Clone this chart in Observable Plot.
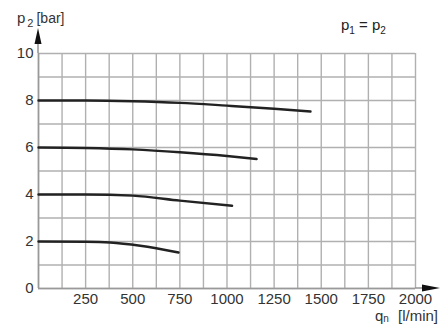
<!DOCTYPE html>
<html>
<head>
<meta charset="utf-8">
<script src="https://cdn.jsdelivr.net/npm/d3@7"></script>
<script src="https://cdn.jsdelivr.net/npm/@observablehq/plot@0.6"></script>
<style>
  html, body { margin: 0; padding: 0; background: #fff; }
  #chart svg { display: block; }
</style>
</head>
<body>
<div id="chart"></div>
<script>
// Tick labels / grid
const xTicks = [250, 500, 750, 1000, 1250, 1500, 1750, 2000];
const xGrid = [0, 125, 250, 375, 500, 625, 750, 875, 1000, 1125, 1250, 1375, 1500, 1625, 1750, 1875, 2000];
const yTicks = [0, 2, 4, 6, 8, 10];
const yGrid = [0, 1, 2, 3, 4, 5, 6, 7, 8, 9, 10];

// Series: flow q_n [l/min] vs outlet pressure p2 [bar]
const q8 = [0, 250, 500, 750, 1000, 1250, 1443];
const p8 = [8.0, 8.0, 7.97, 7.9, 7.78, 7.65, 7.53];
const q6 = [0, 250, 500, 750, 1000, 1157];
const p6 = [6.0, 5.98, 5.92, 5.8, 5.64, 5.51];
const q4 = [0, 250, 500, 750, 1027];
const p4 = [4.0, 4.0, 3.95, 3.74, 3.52];
const q2 = [0, 250, 380, 540, 743];
const p2 = [2.0, 1.99, 1.96, 1.82, 1.53];

const series = [
  {name: "8", q: q8, p: p8},
  {name: "6", q: q6, p: p6},
  {name: "4", q: q4, p: p4},
  {name: "2", q: q2, p: p2}
];
const rows = series.flatMap(s => s.q.map((q, i) => ({series: s.name, q, p: s.p[i]})));

const W = 445, H = 329;
const chart = Plot.plot({
  width: W,
  height: H,
  marginLeft: 38,
  marginRight: 30,
  marginTop: 53,
  marginBottom: 41,
  style: {fontFamily: "'Liberation Sans', Arial, sans-serif", background: "#fff", color: "#333"},
  x: {domain: [0, 2000]},
  y: {domain: [0, 10]},
  marks: [
    Plot.ruleX(xGrid, {x: d => d, stroke: "#b0b0b0", strokeWidth: 1.4}),
    Plot.ruleY(yGrid, {y: d => d, stroke: "#b0b0b0", strokeWidth: 1.4}),
    Plot.ruleX([0], {stroke: "#999", strokeWidth: 1.6}),
    Plot.ruleY([0], {stroke: "#999", strokeWidth: 1.6}),
    Plot.axisX(xTicks, {tickSize: 0, tickPadding: 5, fontSize: 15, fill: "#333", label: null, tickFormat: d => String(d)}),
    Plot.axisY(yTicks, {tickSize: 0, tickPadding: 5, fontSize: 15, fill: "#333", label: null, tickFormat: d => String(d)}),
    Plot.line(rows, {x: "q", y: "p", z: "series", curve: "monotone-x", stroke: "#222", strokeWidth: 2.4})
  ]
});

const svg = d3.select(chart);
const sx = chart.scale("x"), sy = chart.scale("y");
const x0 = sx.apply(0), x1 = sx.apply(2000), y0 = sy.apply(0), y1 = sy.apply(10);

// axis extensions with arrows
svg.append("line").attr("x1", x0).attr("x2", x0).attr("y1", y1).attr("y2", y1 - 12)
  .attr("stroke", "#999").attr("stroke-width", 1.6);
svg.append("path").attr("d", `M${x0},${y1 - 25} L${x0 - 3.5},${y1 - 9} L${x0 + 3.5},${y1 - 9} Z`).attr("fill", "#111");
svg.append("line").attr("x1", x1).attr("x2", x1 + 10).attr("y1", y0).attr("y2", y0)
  .attr("stroke", "#999").attr("stroke-width", 1.6);
svg.append("path").attr("d", `M${x1 + 25},${y0} L${x1 + 7},${y0 - 3.5} L${x1 + 7},${y0 + 3.5} Z`).attr("fill", "#111");

const font = "'Liberation Sans', Arial, sans-serif";
// y axis label
const tY = svg.append("text").attr("x", 17).attr("y", 23).attr("text-anchor", "start").attr("font-family", font).attr("font-size", 15).attr("fill", "#333");
tY.append("tspan").text("p");
tY.append("tspan").attr("font-size", 11).attr("dx", 2).attr("dy", 4).text("2");
tY.append("tspan").attr("font-size", 14).attr("dx", 3).attr("dy", -4).text("[bar]");

// x axis label
const tX = svg.append("text").attr("x", 438).attr("y", 321).attr("text-anchor", "end").attr("font-family", font).attr("font-size", 15).attr("fill", "#333");
tX.append("tspan").text("q");
tX.append("tspan").attr("font-size", 10).attr("dy", 1).text("n");
tX.append("tspan").attr("dy", -1).attr("dx", 5).text(" [l/min]");

// p1 = p2
const tP = svg.append("text").attr("x", 341).attr("y", 30).attr("text-anchor", "start").attr("font-family", font).attr("font-size", 15).attr("fill", "#222");
tP.append("tspan").text("p");
tP.append("tspan").attr("font-size", 10).attr("dy", 4).text("1");
tP.append("tspan").attr("dy", -4).text(" = p");
tP.append("tspan").attr("font-size", 10).attr("dy", 4).text("2");

document.getElementById("chart").appendChild(chart);
</script>
</body>
</html>
